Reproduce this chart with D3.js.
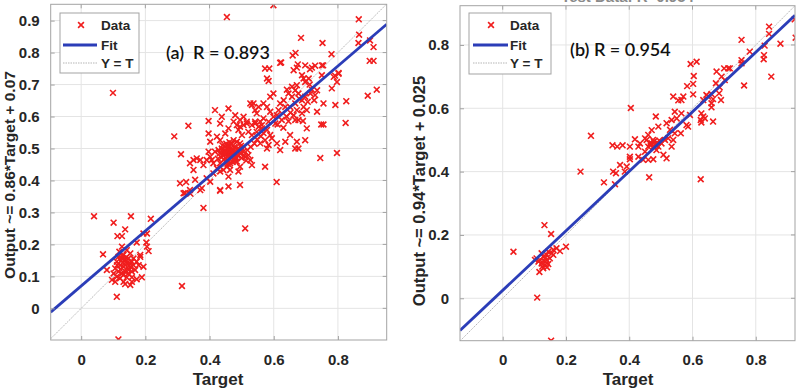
<!DOCTYPE html>
<html><head><meta charset="utf-8">
<script src="https://cdn.jsdelivr.net/npm/d3@7/dist/d3.min.js"></script>
<style>body{margin:0;background:#fff}svg{display:block}</style>
</head><body>
<svg id="c" width="800" height="391"></svg>
<script>
// ---------- data ----------
const ticksA_X = [0, 0.2, 0.4, 0.6, 0.8];
const ticksA_Y = [0, 0.1, 0.2, 0.3, 0.4, 0.5, 0.6, 0.7, 0.8, 0.9];
const ticksB_X = [0, 0.2, 0.4, 0.6, 0.8];
const ticksB_Y = [0, 0.2, 0.4, 0.6, 0.8];
const domainA = [-0.095, 0.952];
const domainAy = [-0.099, 0.951];
const domainB = [-0.135, 0.924];
const domainBy = [-0.134, 0.924];
const fitA = [0.86, 0.07];
const fitB = [0.94, 0.025];
const labelsA = {ylab: "Output ~= 0.86*Target + 0.07", note: "(a)  R = 0.893"};
const labelsB = {ylab: "Output ~= 0.94*Target + 0.025", note: "(b) R = 0.954", title: "Test Data: R=0.954"};
const legendItems = ["Data", "Fit", "Y = T"];

const pointsA = [
[0.599,0.948],[0.454,0.911],[0.099,0.674],[0.865,0.904],[0.866,0.856],[0.900,0.838],[0.864,0.830],[0.911,0.817],[0.899,0.774],[0.911,0.774],
[0.685,0.846],[0.752,0.830],[0.668,0.799],[0.659,0.791],[0.623,0.769],[0.780,0.795],[0.754,0.760],[0.729,0.759],[0.713,0.748],[0.802,0.736],
[0.791,0.728],[0.921,0.684],[0.893,0.665],[0.826,0.648],[0.824,0.580],[0.797,0.486],[0.748,0.575],[0.755,0.575],[0.745,0.470],[0.609,0.395],
[0.311,0.482],[0.334,0.571],[0.308,0.391],[0.327,0.395],[0.290,0.538],
[0.573,0.750],[0.586,0.750],[0.579,0.719],[0.584,0.711],[0.620,0.768],[0.675,0.763],[0.672,0.753],[0.698,0.760],[0.719,0.753],[0.750,0.760],
[0.662,0.745],[0.688,0.729],[0.693,0.719],[0.709,0.719],[0.698,0.708],[0.672,0.698],[0.657,0.693],[0.641,0.684],[0.646,0.672],[0.667,0.682],
[0.677,0.672],[0.657,0.662],[0.631,0.651],[0.620,0.641],[0.636,0.630],[0.651,0.630],[0.667,0.641],[0.688,0.651],[0.698,0.662],[0.714,0.672],
[0.719,0.684],[0.735,0.682],[0.729,0.667],[0.726,0.651],[0.703,0.620],[0.693,0.630],[0.688,0.610],[0.672,0.620],[0.662,0.604],[0.667,0.589],
[0.677,0.589],[0.691,0.586],[0.703,0.563],[0.792,0.636],[0.797,0.708],[0.781,0.688],[0.787,0.724],[0.802,0.734],[0.755,0.641],[0.735,0.615],
[0.750,0.729],[0.599,0.672],[0.589,0.662],[0.615,0.620],[0.589,0.615],[0.579,0.630],[0.568,0.641],[0.553,0.630],[0.542,0.620],[0.547,0.610],
[0.532,0.636],[0.527,0.641],[0.537,0.641],[0.599,0.599],[0.610,0.604],[0.625,0.589],[0.605,0.578],[0.584,0.584],[0.568,0.594],[0.558,0.584],
[0.542,0.578],[0.532,0.573],[0.516,0.578],[0.506,0.573],[0.495,0.568],[0.485,0.573],[0.475,0.584],[0.490,0.558],[0.501,0.542],[0.521,0.552],
[0.532,0.542],[0.547,0.552],[0.563,0.563],[0.579,0.558],[0.589,0.542],[0.594,0.532],[0.573,0.526],[0.558,0.516],[0.584,0.511],[0.579,0.500],
[0.610,0.516],[0.620,0.495],[0.636,0.521],[0.651,0.542],[0.672,0.521],[0.667,0.500],[0.677,0.500],[0.698,0.526],[0.573,0.443],[0.532,0.448],
[0.527,0.464],[0.521,0.479],[0.511,0.474],[0.501,0.500],[0.495,0.516],[0.485,0.521],[0.475,0.526],[0.469,0.516],[0.459,0.511],[0.449,0.506],
[0.438,0.500],[0.428,0.495],[0.417,0.490],[0.449,0.490],[0.459,0.495],[0.469,0.485],[0.480,0.474],[0.475,0.464],[0.464,0.454],[0.454,0.443],
[0.443,0.433],[0.433,0.428],[0.423,0.438],[0.412,0.454],[0.407,0.464],[0.402,0.474],[0.397,0.490],[0.391,0.464],[0.381,0.448],[0.371,0.464],
[0.360,0.469],[0.350,0.464],[0.339,0.454],[0.350,0.433],[0.355,0.402],[0.391,0.407],[0.412,0.422],[0.433,0.454],[0.454,0.464],[0.485,0.459],
[0.495,0.443],[0.490,0.428],[0.464,0.433],[0.459,0.412],[0.433,0.370],[0.459,0.381],[0.495,0.386],[0.402,0.396],[0.376,0.376],[0.339,0.370],
[0.319,0.360],[0.397,0.547],[0.402,0.521],[0.423,0.537],[0.433,0.526],[0.449,0.547],[0.459,0.563],[0.433,0.578],[0.397,0.586],[0.417,0.620],
[0.438,0.599],[0.459,0.625],[0.480,0.604],[0.495,0.589],[0.506,0.599],[0.516,0.584],[0.542,0.584],[0.553,0.568],[0.563,0.573],
[0.455,0.485],[0.460,0.478],[0.470,0.490],[0.465,0.500],[0.475,0.495],[0.450,0.470],[0.458,0.462],[0.468,0.472],[0.478,0.480],[0.485,0.490],
[0.448,0.495],[0.442,0.480],[0.452,0.458],[0.462,0.448],[0.472,0.458],[0.482,0.468],[0.488,0.478],[0.458,0.505],[0.468,0.512],[0.478,0.505],
[0.445,0.465],[0.437,0.472],[0.490,0.500],[0.495,0.485],[0.500,0.470],[0.505,0.490],[0.460,0.490],[0.470,0.480],[0.480,0.460],[0.455,0.475],
[0.463,0.468],[0.473,0.476],[0.452,0.490],[0.466,0.494],[0.476,0.486],[0.486,0.496],[0.456,0.452],[0.444,0.488],[0.432,0.485],[0.426,0.468],
[0.462,0.520],[0.452,0.515],[0.440,0.510],[0.498,0.508],[0.508,0.478],[0.514,0.462],[0.518,0.495],[0.528,0.505],[0.540,0.515],[0.548,0.528],
[0.560,0.538],[0.568,0.548],[0.612,0.575],[0.630,0.565],[0.640,0.600],[0.652,0.612],[0.646,0.585],[0.680,0.655],[0.706,0.646],[0.712,0.700],
[0.324,0.361],[0.340,0.359],[0.371,0.370],[0.433,0.368],
[0.040,0.288],[0.155,0.288],[0.101,0.268],[0.137,0.247],[0.113,0.226],[0.127,0.226],[0.217,0.280],[0.194,0.234],[0.205,0.234],[0.173,0.206],
[0.203,0.206],[0.205,0.193],[0.210,0.179],[0.127,0.193],[0.142,0.182],[0.068,0.169],[0.080,0.120],[0.111,0.036],[0.116,-0.097],[0.314,0.070],
[0.381,0.314],[0.511,0.250],[0.184,0.167],[0.184,0.161],[0.194,0.130],[0.189,0.097],[0.173,0.091],[0.153,0.073],[0.106,0.083],[0.132,0.083],
[0.116,0.161],[0.127,0.156],[0.137,0.151],[0.147,0.156],[0.158,0.146],[0.111,0.146],[0.121,0.135],[0.132,0.130],[0.142,0.141],[0.153,0.130],
[0.163,0.135],[0.106,0.125],[0.116,0.115],[0.127,0.109],[0.137,0.115],[0.147,0.109],[0.158,0.115],[0.168,0.120],[0.111,0.099],[0.121,0.094],
[0.142,0.097],[0.158,0.097],[0.132,0.167],[0.119,0.177],[0.153,0.172],[0.163,0.156],[0.173,0.146],[0.179,0.135],[0.101,0.109],[0.096,0.089],
[0.158,0.083],[0.137,0.076],
[0.124,0.148],[0.134,0.140],[0.144,0.128],[0.122,0.122],[0.131,0.104],[0.141,0.160],[0.150,0.142],[0.112,0.135],[0.128,0.165],[0.148,0.120]
];

const pointsB = [
[0.923,0.881],[0.926,0.823],[0.842,0.858],[0.842,0.835],[0.828,0.798],[0.878,0.804],[0.826,0.768],[0.825,0.755],[0.849,0.700],[0.755,0.816],
[0.781,0.779],[0.755,0.752],[0.755,0.742],[0.763,0.672],[0.713,0.726],[0.700,0.726],[0.676,0.716],[0.692,0.700],[0.702,0.689],[0.686,0.666],
[0.674,0.679],[0.660,0.645],[0.665,0.629],[0.660,0.616],[0.660,0.603],[0.665,0.558],[0.644,0.642],[0.634,0.626],[0.613,0.747],[0.594,0.740],
[0.604,0.702],[0.602,0.677],[0.583,0.670],[0.602,0.644],[0.628,0.584],[0.634,0.574],[0.626,0.563],[0.639,0.568],[0.628,0.555],[0.626,0.376],
[0.592,0.579],[0.581,0.547],[0.586,0.542],[0.565,0.584],[0.550,0.568],[0.571,0.637],[0.565,0.626],[0.539,0.637],[0.544,0.589],[0.534,0.563],
[0.518,0.553],[0.529,0.532],[0.523,0.505],[0.539,0.500],[0.534,0.479],[0.513,0.500],[0.502,0.489],[0.492,0.479],[0.486,0.468],[0.476,0.479],
[0.465,0.489],[0.455,0.500],[0.460,0.479],[0.450,0.463],[0.492,0.542],[0.484,0.574],[0.471,0.531],[0.460,0.516],[0.450,0.505],[0.434,0.489],
[0.429,0.479],[0.418,0.502],[0.402,0.447],[0.402,0.439],[0.429,0.447],[0.444,0.437],[0.460,0.437],[0.476,0.439],[0.518,0.442],[0.463,0.382],
[0.405,0.601],[0.279,0.513],[0.347,0.483],[0.362,0.479],[0.379,0.483],[0.402,0.479],[0.371,0.421],[0.392,0.416],[0.386,0.400],[0.349,0.400],
[0.358,0.395],[0.355,0.360],[0.320,0.366],[0.246,0.400],[0.508,0.453],[0.544,0.521],[0.563,0.521],
[0.470,0.490],[0.478,0.495],[0.482,0.485],[0.488,0.492],[0.475,0.500],[0.468,0.482],[0.495,0.498],[0.480,0.475],
[0.684,0.647],[0.690,0.626],[0.649,0.637],[0.718,0.726],[0.555,0.625],
[0.132,0.231],[0.153,0.203],[0.034,0.147],[0.200,0.163],[0.181,0.149],[0.170,0.158],[0.160,0.153],[0.155,0.142],[0.144,0.147],[0.139,0.137],
[0.128,0.131],[0.118,0.121],[0.107,0.126],[0.102,0.121],[0.123,0.110],[0.134,0.105],[0.144,0.108],[0.128,0.095],[0.116,0.083],[0.109,0.002],
[0.153,-0.134],[0.139,0.121],[0.149,0.126],[0.160,0.137],[0.123,0.142],[0.113,0.116],[0.130,0.118],[0.135,0.128],[0.125,0.100],[0.140,0.098]
];

// ---------- drawing ----------
const svg = d3.select("#c");
const RED = "#f01e1e", BLUE = "#2b3db8", GRID = "#e4e4e4", BOX = "#a3a3a3", TXT = "#262626";
const FONT = "'Liberation Sans', Arial, sans-serif";
const XMARK = "M-2.9,-2.9L2.9,2.9M-2.9,2.9L2.9,-2.9";

function panel(o) {
  const x = d3.scaleLinear().domain(o.dx).range([o.x0, o.x1]);
  const y = d3.scaleLinear().domain(o.dy).range([o.y1, o.y0]);
  const g = svg.append("g");
  const id = "clip" + o.key;
  svg.append("clipPath").attr("id", id).append("rect")
    .attr("x", o.x0).attr("y", o.y0).attr("width", o.x1 - o.x0).attr("height", o.y1 - o.y0);

  // grid
  g.append("g").selectAll("line").data(o.tx).join("line")
    .attr("x1", d => x(d)).attr("x2", d => x(d)).attr("y1", o.y0).attr("y2", o.y1)
    .attr("stroke", GRID).attr("stroke-width", 1);
  g.append("g").selectAll("line").data(o.ty).join("line")
    .attr("y1", d => y(d)).attr("y2", d => y(d)).attr("x1", o.x0).attr("x2", o.x1)
    .attr("stroke", GRID).attr("stroke-width", 1);

  const plot = g.append("g").attr("clip-path", `url(#${id})`);
  // Y = T
  const lo = Math.min(o.dx[0], o.dy[0]), hi = Math.max(o.dx[1], o.dy[1]);
  plot.append("line").attr("x1", x(lo)).attr("y1", y(lo)).attr("x2", x(hi)).attr("y2", y(hi))
    .attr("stroke", "#b5b5b5").attr("stroke-width", 1).attr("stroke-dasharray", "1.5,1");
  // data markers
  plot.append("g").selectAll("path").data(o.pts).join("path")
    .attr("transform", d => `translate(${x(d[0])},${y(d[1])})`)
    .attr("d", XMARK)
    .attr("stroke", RED).attr("stroke-width", 1.6).attr("fill", "none");
  // fit
  plot.append("line")
    .attr("x1", x(o.dx[0])).attr("y1", y(o.fit[0] * o.dx[0] + o.fit[1]))
    .attr("x2", x(o.dx[1])).attr("y2", y(o.fit[0] * o.dx[1] + o.fit[1]))
    .attr("stroke", BLUE).attr("stroke-width", 2.8);

  // axes (labels)
  const fmt = d => d === 0 ? "0" : d3.format(".1f")(d);
  const ax = g.append("g").attr("transform", `translate(0,${o.y1})`)
    .call(d3.axisBottom(x).tickValues(o.tx).tickSize(4).tickPadding(10).tickFormat(fmt));
  const ay = g.append("g").attr("transform", `translate(${o.x0},0)`)
    .call(d3.axisLeft(y).tickValues(o.ty).tickSize(4).tickPadding(7).tickFormat(fmt));
  [ax, ay].forEach(a => {
    a.select(".domain").remove();
    a.selectAll("text").attr("font-family", FONT).attr("font-weight", "bold")
      .attr("font-size", 15).attr("fill", TXT);
  });
  ax.selectAll("line").attr("y2", -4).attr("stroke", BOX);
  ay.selectAll("line").attr("x2", 4).attr("stroke", BOX);
  // right/top box ticks
  g.append("g").selectAll("line").data(o.ty).join("line")
    .attr("x1", o.x1).attr("x2", o.x1 - 4).attr("y1", d => y(d)).attr("y2", d => y(d)).attr("stroke", BOX);
  g.append("g").selectAll("line").data(o.tx).join("line")
    .attr("y1", o.y0).attr("y2", o.y0 + 4).attr("x1", d => x(d)).attr("x2", d => x(d)).attr("stroke", BOX);

  // box
  g.append("rect").attr("x", o.x0).attr("y", o.y0).attr("width", o.x1 - o.x0).attr("height", o.y1 - o.y0)
    .attr("fill", "none").attr("stroke", BOX).attr("stroke-width", 1);

  // axis labels
  g.append("text").attr("x", o.xlabX).attr("y", 385).attr("text-anchor", "middle")
    .attr("font-family", FONT).attr("font-weight", "bold").attr("font-size", 17).attr("fill", TXT).text("Target");
  g.append("text").attr("transform", `translate(${o.ylabX},${o.ylabY}) rotate(-90)`)
    .attr("text-anchor", "middle").attr("dominant-baseline", "central")
    .attr("font-family", FONT).attr("font-weight", "bold").attr("font-size", o.ylabSize).attr("fill", TXT).text(o.labels.ylab);

  // note
  g.append("text").attr("x", o.noteX).attr("y", o.noteY).attr("font-family", "Lato, 'Open Sans', sans-serif")
    .attr("font-size", 18).attr("fill", "#111").attr("font-weight", 600)
    .style("white-space", "pre").text(o.labels.note);

  // legend
  const L = o.leg;
  const lg = g.append("g");
  lg.append("rect").attr("x", L.x).attr("y", L.y).attr("width", L.w).attr("height", L.h)
    .attr("fill", "#fff").attr("stroke", BOX).attr("stroke-width", 1);
  const rows = [L.y + 12, L.y + 32, L.y + 50];
  lg.append("path").attr("transform", `translate(${L.mx},${rows[0]})`)
    .attr("d", XMARK).attr("stroke", RED).attr("stroke-width", 1.6);
  lg.append("line").attr("x1", L.lx0).attr("x2", L.lx1).attr("y1", rows[1]).attr("y2", rows[1])
    .attr("stroke", BLUE).attr("stroke-width", 2.8);
  lg.append("line").attr("x1", L.lx0).attr("x2", L.lx1).attr("y1", rows[2]).attr("y2", rows[2])
    .attr("stroke", "#b5b5b5").attr("stroke-width", 1).attr("stroke-dasharray", "1.5,1");
  lg.selectAll("text").data(legendItems).join("text")
    .attr("x", L.tx).attr("y", (d, i) => rows[i]).attr("dominant-baseline", "central")
    .attr("font-family", FONT).attr("font-weight", "bold").attr("font-size", 13.5).attr("fill", TXT).text(d => d);

  if (o.labels.title) {
    g.append("text").attr("x", (o.x0 + o.x1) / 2).attr("y", 2).attr("text-anchor", "middle")
      .attr("font-family", FONT).attr("font-weight", "bold").attr("font-size", 15).attr("fill", "#8a8a8a")
      .text(o.labels.title);
  }
}

panel({key: "A", dx: domainA, dy: domainAy, x0: 50.7, x1: 386.7, y0: 4.3, y1: 340,
  tx: ticksA_X, ty: ticksA_Y, pts: pointsA, fit: fitA, labels: labelsA,
  xlabX: 218, ylabX: 9, ylabY: 175, ylabSize: 15.5, noteX: 166, noteY: 59,
  leg: {x: 60, y: 13, w: 79, h: 60, mx: 81, lx0: 63, lx1: 97, tx: 101}});

panel({key: "B", dx: domainB, dy: domainBy, x0: 460, x1: 795, y0: 5.7, y1: 340.7,
  tx: ticksB_X, ty: ticksB_Y, pts: pointsB, fit: fitB, labels: labelsB,
  xlabX: 628, ylabX: 419, ylabY: 191, ylabSize: 16.5, noteX: 570, noteY: 56,
  leg: {x: 469, y: 13, w: 82, h: 61, mx: 491, lx0: 473, lx1: 508, tx: 510}});
</script>
</body></html>
